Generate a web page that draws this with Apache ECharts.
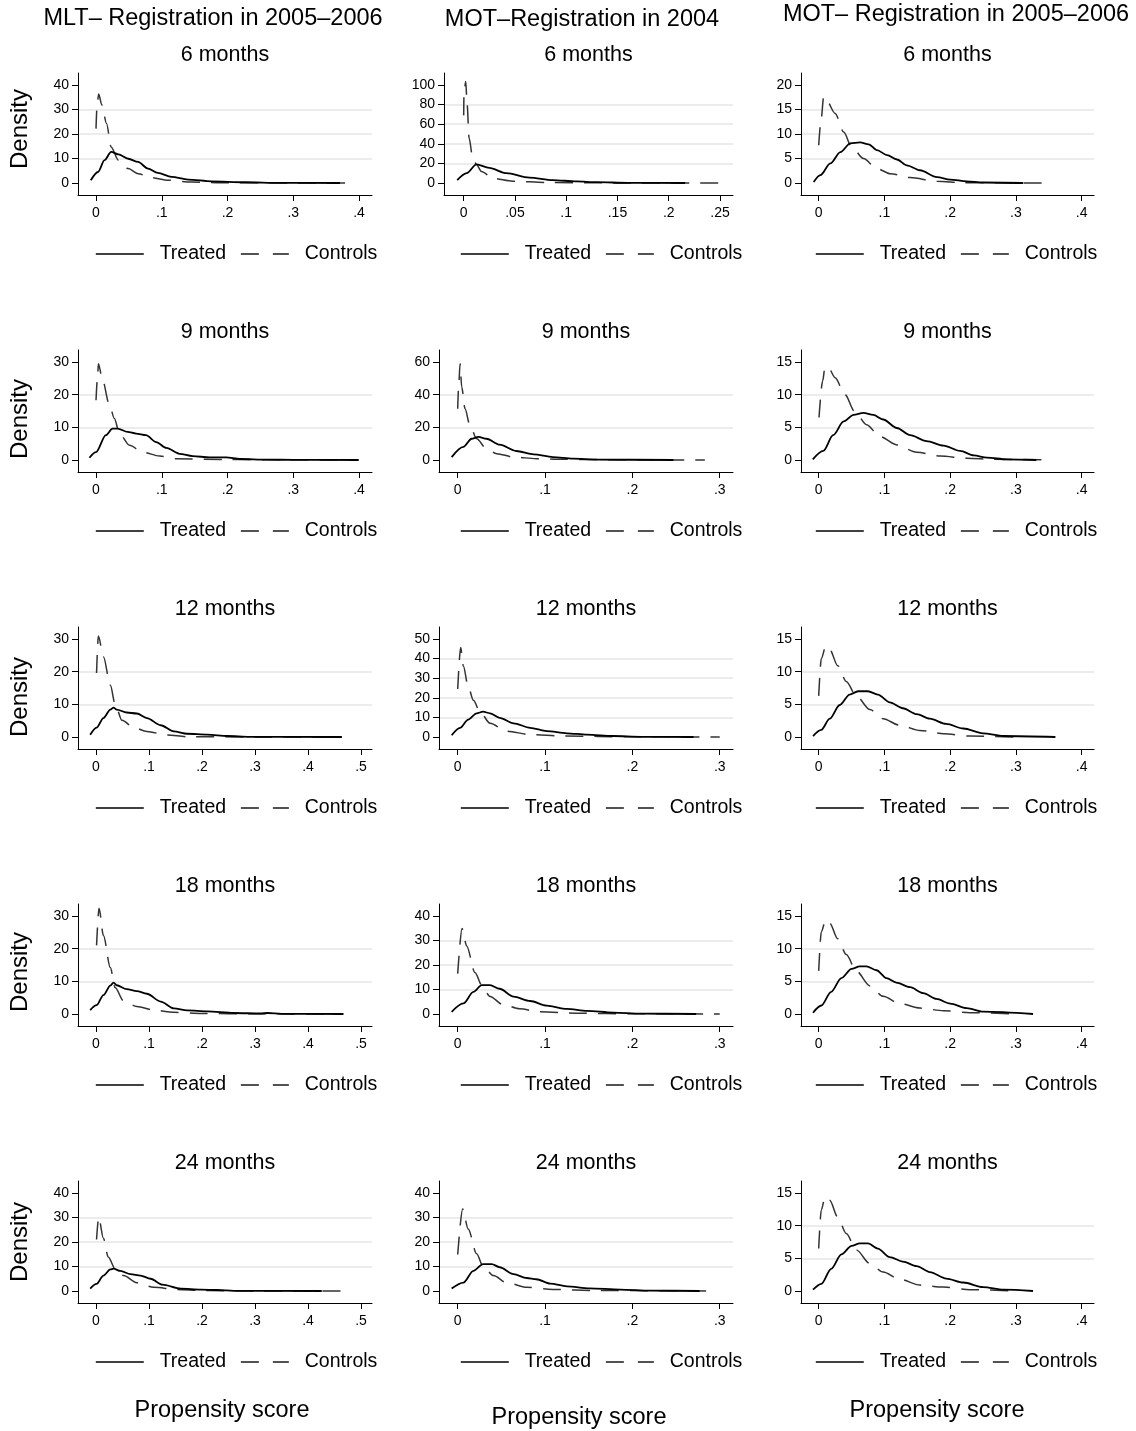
<!DOCTYPE html>
<html><head><meta charset="utf-8">
<script src="https://cdn.jsdelivr.net/npm/echarts@6/dist/echarts.min.js"></script>
<style>html,body{margin:0;padding:0;background:#fff}#c{width:1136px;height:1431px}</style>
</head><body><div id="c"></div>
<script>
// ---------------- DATA ----------------
const columnTitles = ['MLT\u2013 Registration in 2005\u20132006', 'MOT\u2013Registration in 2004', 'MOT\u2013 Registration in 2005\u20132006'];
const rowLabels = ['6 months', '9 months', '12 months', '18 months', '24 months'];
const seriesNames = ['Treated', 'Controls'];

// Column 1: MLT, registration 2005-2006
const mlt_6_treated = [[-0.008,1.1],[0.003,4.5],[0.013,9.3],[0.023,12.7],[0.034,11.7],[0.049,9.9],[0.064,8.6],[0.079,5.9],[0.094,4.1],[0.115,2.5],[0.14,1.4],[0.176,0.7],[0.226,0.3],[0.28,0.05],[0.371,0]];
const mlt_6_controls = [[0,22.2],[0.0015,31],[0.004,36.3],[0.009,31.8],[0.016,24.3],[0.023,14.7],[0.034,9.3],[0.049,5.9],[0.064,3.8],[0.084,2.2],[0.11,1.1],[0.145,0.4],[0.2,0.1],[0.3,0.03],[0.389,0]];
const mlt_9_treated = [[-0.01,0.7],[0,2.4],[0.015,7.6],[0.025,9.6],[0.033,9.6],[0.048,8.6],[0.061,8.1],[0.076,7.6],[0.0915,5.5],[0.107,3.7],[0.127,1.9],[0.147,1.2],[0.173,0.8],[0.198,0.8],[0.219,0.3],[0.26,0.1],[0.3,0.05],[0.399,0]];
const mlt_9_controls = [[0,18.3],[0.0025,25.9],[0.0036,29.5],[0.01,24.4],[0.02,17.2],[0.028,12.7],[0.0356,8.1],[0.051,4.5],[0.071,2.4],[0.097,1.2],[0.122,0.4],[0.2,0.15],[0.3,0.05],[0.4,0]];
const mlt_12_treated = [[-0.011,0.7],[0.001,2.9],[0.014,5.8],[0.027,8.4],[0.033,9.0],[0.039,8.4],[0.058,7.5],[0.077,7.2],[0.096,5.8],[0.122,3.6],[0.147,1.7],[0.172,1.0],[0.21,0.7],[0.248,0.3],[0.29,0.05],[0.464,0]];
const mlt_12_controls = [[0.001,19.6],[0.0044,30.9],[0.014,24.6],[0.027,15.9],[0.036,10.1],[0.049,5.1],[0.071,2.9],[0.096,1.7],[0.134,0.6],[0.172,0.1],[0.3,0.02],[0.46,0]];
const mlt_18_treated = [[-0.011,1.2],[0.001,2.7],[0.014,5.8],[0.027,8.7],[0.033,9.6],[0.039,8.8],[0.058,7.6],[0.077,7.0],[0.096,6.2],[0.122,3.8],[0.147,1.7],[0.172,1.1],[0.21,0.8],[0.26,0.3],[0.31,0.15],[0.324,0.3],[0.35,0.05],[0.467,0]];
const mlt_18_controls = [[0.001,21],[0.0057,32.4],[0.014,24],[0.027,14.2],[0.036,8.1],[0.052,4.0],[0.077,2.3],[0.109,1.2],[0.147,0.5],[0.2,0.15],[0.3,0.05],[0.46,0]];
const mlt_24_treated = [[-0.011,1],[0.001,2.9],[0.014,6.3],[0.027,8.8],[0.033,9.1],[0.046,8.2],[0.065,6.9],[0.084,6.3],[0.103,5.0],[0.125,2.6],[0.16,1.0],[0.198,0.6],[0.229,0.4],[0.26,0.05],[0.426,0]];
const mlt_24_controls = [[0.001,21],[0.005,30.1],[0.014,21.5],[0.023,13.9],[0.036,9.1],[0.052,6.3],[0.077,3.4],[0.109,1.5],[0.153,0.6],[0.2,0.2],[0.3,0.05],[0.464,0]];

// Column 2: MOT, registration 2004
const mot04_6_treated = [[-0.0063,2.9],[0.003,10],[0.0124,19],[0.025,15.4],[0.0417,10],[0.064,5.5],[0.087,3.0],[0.11,1.6],[0.13,0.8],[0.16,0.2],[0.216,0]];
const mot04_6_controls = [[0,69],[0.0003,92],[0.002,103.5],[0.0033,81],[0.0053,45.7],[0.0085,27.8],[0.0124,19],[0.0173,11.8],[0.0286,4.7],[0.048,1.8],[0.081,0.5],[0.15,0.1],[0.258,0]];
const mot04_9_treated = [[-0.0069,1.8],[0.0065,8],[0.016,13],[0.0236,14.1],[0.033,13],[0.048,9.4],[0.067,5.5],[0.087,3.5],[0.109,1.8],[0.132,0.8],[0.159,0.2],[0.247,0]];
const mot04_9_controls = [[0,31.4],[0.0011,44.7],[0.0027,59],[0.0046,44.7],[0.0084,31.4],[0.014,21.2],[0.0217,13],[0.033,6.9],[0.0446,3.9],[0.064,1.8],[0.09,0.8],[0.12,0.4],[0.2,0.1],[0.283,0]];
const mot04_12_treated = [[-0.0069,0.9],[0.0027,4.7],[0.012,8.9],[0.0217,12.1],[0.029,12.9],[0.037,12.1],[0.048,9.8],[0.064,7.0],[0.083,4.7],[0.102,3.0],[0.125,1.9],[0.148,1.2],[0.178,0.5],[0.21,0.1],[0.27,0]];
const mot04_12_controls = [[0,24.5],[0.0034,45.6],[0.0065,36.2],[0.012,25.7],[0.018,18.7],[0.0255,12.9],[0.037,7.0],[0.056,3.0],[0.083,1.2],[0.121,0.5],[0.2,0.1],[0.3,0]];
const mot04_18_treated = [[-0.0069,0.9],[0.0065,4.3],[0.018,9],[0.0275,11.8],[0.037,11.8],[0.048,10.3],[0.064,7.1],[0.083,5.3],[0.102,3.4],[0.125,2.1],[0.148,1.3],[0.178,0.6],[0.21,0.15],[0.273,0]];
const mot04_18_controls = [[0,16.5],[0.005,34.9],[0.0103,27.8],[0.0198,16.9],[0.0275,11.8],[0.037,7.1],[0.052,3.8],[0.071,2.1],[0.094,0.9],[0.14,0.3],[0.2,0.1],[0.3,0]];
const mot04_24_treated = [[-0.0069,1],[0.0065,3.4],[0.018,8.2],[0.029,11.0],[0.039,11.0],[0.048,9.7],[0.064,6.9],[0.079,5.3],[0.09,4.8],[0.106,3.0],[0.125,1.9],[0.151,1.1],[0.186,0.6],[0.22,0.15],[0.277,0]];
const mot04_24_controls = [[0,14.9],[0.0057,33.5],[0.012,25.3],[0.0217,15.2],[0.029,10.1],[0.041,6.3],[0.056,3.4],[0.079,1.5],[0.109,0.6],[0.16,0.2],[0.296,0]];

// Column 3: MOT, registration 2005-2006
const mot0506_6_treated = [[-0.0076,0.2],[0.0026,1.6],[0.0178,4],[0.033,6.3],[0.048,8.1],[0.063,8.3],[0.076,7.9],[0.0887,6.7],[0.104,5.7],[0.119,4.8],[0.134,3.6],[0.154,2.6],[0.18,1.2],[0.2,0.7],[0.225,0.35],[0.25,0.1],[0.311,0]];
const mot0506_6_controls = [[0,7.7],[0.0036,12.8],[0.0076,17.6],[0.0117,16.9],[0.025,14.2],[0.038,10.4],[0.05,7.4],[0.068,5],[0.089,2.9],[0.109,1.9],[0.139,1.1],[0.18,0.35],[0.22,0.05],[0.339,0]];
const mot0506_9_treated = [[-0.009,0.1],[0.007,1.4],[0.022,3.8],[0.038,5.9],[0.053,6.9],[0.068,7.2],[0.083,6.9],[0.098,6.2],[0.119,4.9],[0.139,3.8],[0.164,2.9],[0.19,2.2],[0.215,1.4],[0.236,0.7],[0.256,0.36],[0.286,0.1],[0.331,0]];
const mot0506_9_controls = [[0.0005,6.5],[0.006,12.1],[0.0096,14.2],[0.015,14.1],[0.025,12.6],[0.04,10],[0.055,7.4],[0.073,5.4],[0.093,3.6],[0.119,2.3],[0.149,1.2],[0.185,0.6],[0.225,0.26],[0.266,0.1],[0.352,0]];
const mot0506_12_treated = [[-0.0086,0.15],[0.004,1.1],[0.0168,2.8],[0.032,4.9],[0.047,6.5],[0.06,7.0],[0.075,7.0],[0.09,6.5],[0.108,5.3],[0.128,4.4],[0.149,3.5],[0.169,2.8],[0.194,2.0],[0.22,1.3],[0.25,0.56],[0.281,0.15],[0.36,0]];
const mot0506_12_controls = [[0,6.3],[0.004,12],[0.0107,13.9],[0.0168,13.4],[0.029,10.9],[0.042,8.5],[0.057,6.3],[0.078,4.2],[0.098,2.8],[0.123,1.8],[0.154,1.0],[0.19,0.5],[0.23,0.15],[0.3,0]];
const mot0506_18_treated = [[-0.0086,0.2],[0.004,1.3],[0.019,3.4],[0.0345,5.5],[0.05,6.9],[0.0624,7.3],[0.0726,7.3],[0.088,6.7],[0.103,5.5],[0.118,4.8],[0.139,4.1],[0.159,3.2],[0.179,2.3],[0.2,1.6],[0.225,0.9],[0.25,0.35],[0.326,0]];
const mot0506_18_controls = [[0,6.6],[0.004,12.6],[0.0107,14.4],[0.0168,13.9],[0.029,11.5],[0.042,9.1],[0.057,6.6],[0.078,4.3],[0.098,2.7],[0.123,1.6],[0.154,0.9],[0.19,0.5],[0.23,0.2],[0.3,0]];
const mot0506_24_treated = [[-0.0086,0.2],[0.004,1.1],[0.019,3.4],[0.0345,5.6],[0.05,6.9],[0.0624,7.3],[0.075,7.3],[0.09,6.5],[0.108,5.2],[0.128,4.5],[0.149,3.8],[0.169,2.9],[0.194,1.9],[0.22,1.3],[0.25,0.6],[0.281,0.2],[0.326,0]];
const mot0506_24_controls = [[0,6.5],[0.004,12.4],[0.0096,14.4],[0.0168,13.9],[0.029,11.3],[0.042,8.8],[0.057,6.3],[0.078,4.2],[0.098,2.9],[0.123,1.8],[0.154,0.9],[0.19,0.6],[0.23,0.2],[0.3,0]];

// Tick label sets
const yTicks_0_40_by10 = [0,10,20,30,40];
const yTicks_0_30_by10 = [0,10,20,30];
const yTicks_0_50_by10 = [0,10,20,30,40,50];
const yTicks_0_100_by20 = [0,20,40,60,80,100];
const yTicks_0_60_by20 = [0,20,40,60];
const yTicks_0_20_by5 = [0,5,10,15,20];
const yTicks_0_15_by5 = [0,5,10,15];
const xTicks_0_04 = [0,0.1,0.2,0.3,0.4];
const xTicks_0_05 = [0,0.1,0.2,0.3,0.4,0.5];
const xTicks_0_025 = [0,0.05,0.1,0.15,0.2,0.25];
const xTicks_0_03 = [0,0.1,0.2,0.3];

// ---------------- LAYOUT ----------------
const FONT = 'Liberation Sans';
const ROW_TOP = [73, 350, 627, 904, 1181];
const PLOT_H = 122;
const COLS = [
  {left:[78,78,78,78,78], right:372, legendLeft:95, center:[225,225,225,225,225]},
  {left:[444,439,439,439,439], right:733, legendLeft:460, center:[588.5,586,586,586,586]},
  {left:[801,801,801,801,801], right:1094, legendLeft:815, center:[947.5,947.5,947.5,947.5,947.5]}
];
const XR_MLT_A = [-0.0274, 0.4198], XR_MLT_B = [-0.034, 0.5208];
const XR_MOT04_A = [-0.0192, 0.2627], XR_MOT04_B = [-0.0214, 0.3152];
const XR_MOT0506 = [-0.0269, 0.4187];

const panels = [
  {c:0,r:0,t:mlt_6_treated,k:mlt_6_controls,yt:yTicks_0_40_by10,xt:xTicks_0_04,xr:XR_MLT_A},
  {c:0,r:1,t:mlt_9_treated,k:mlt_9_controls,yt:yTicks_0_30_by10,xt:xTicks_0_04,xr:XR_MLT_A},
  {c:0,r:2,t:mlt_12_treated,k:mlt_12_controls,yt:yTicks_0_30_by10,xt:xTicks_0_05,xr:XR_MLT_B},
  {c:0,r:3,t:mlt_18_treated,k:mlt_18_controls,yt:yTicks_0_30_by10,xt:xTicks_0_05,xr:XR_MLT_B},
  {c:0,r:4,t:mlt_24_treated,k:mlt_24_controls,yt:yTicks_0_40_by10,xt:xTicks_0_05,xr:XR_MLT_B},
  {c:1,r:0,t:mot04_6_treated,k:mot04_6_controls,yt:yTicks_0_100_by20,xt:xTicks_0_025,xr:XR_MOT04_A},
  {c:1,r:1,t:mot04_9_treated,k:mot04_9_controls,yt:yTicks_0_60_by20,xt:xTicks_0_03,xr:XR_MOT04_B},
  {c:1,r:2,t:mot04_12_treated,k:mot04_12_controls,yt:yTicks_0_50_by10,xt:xTicks_0_03,xr:XR_MOT04_B},
  {c:1,r:3,t:mot04_18_treated,k:mot04_18_controls,yt:yTicks_0_40_by10,xt:xTicks_0_03,xr:XR_MOT04_B},
  {c:1,r:4,t:mot04_24_treated,k:mot04_24_controls,yt:yTicks_0_40_by10,xt:xTicks_0_03,xr:XR_MOT04_B},
  {c:2,r:0,t:mot0506_6_treated,k:mot0506_6_controls,yt:yTicks_0_20_by5,xt:xTicks_0_04,xr:XR_MOT0506},
  {c:2,r:1,t:mot0506_9_treated,k:mot0506_9_controls,yt:yTicks_0_15_by5,xt:xTicks_0_04,xr:XR_MOT0506},
  {c:2,r:2,t:mot0506_12_treated,k:mot0506_12_controls,yt:yTicks_0_15_by5,xt:xTicks_0_04,xr:XR_MOT0506},
  {c:2,r:3,t:mot0506_18_treated,k:mot0506_18_controls,yt:yTicks_0_15_by5,xt:xTicks_0_04,xr:XR_MOT0506},
  {c:2,r:4,t:mot0506_24_treated,k:mot0506_24_controls,yt:yTicks_0_15_by5,xt:xTicks_0_04,xr:XR_MOT0506}
];

const fmtX = v => v === 0 ? '0' : String(+v.toFixed(4)).replace(/^(-?)0\./, '$1.');
const grids = [], xAxes = [], yAxes = [], series = [], legends = [], graphics = [];
const NOFILL = {color: 'rgba(0,0,0,0)', borderColor: 'rgba(0,0,0,0)', borderWidth: 0};

panels.forEach((p, i) => {
  const col = COLS[p.c];
  const L = col.left[p.r];
  const top = ROW_TOP[p.r];
  const T = p.yt[p.yt.length - 1];
  const pad = T * 12 / 98;
  grids.push({left: L, top: top, width: col.right - L, height: PLOT_H, containLabel: false, outerBoundsMode: 'none'});
  xAxes.push({
    type: 'value', gridIndex: i, min: p.xr[0], max: p.xr[1],
    axisLine: {show: true, onZero: false, lineStyle: {color: '#000', width: 1}},
    axisTick: {show: true, length: 6, customValues: p.xt, lineStyle: {color: '#000', width: 1}},
    axisLabel: {customValues: p.xt, formatter: fmtX, fontFamily: FONT, fontSize: 14, color: '#000', margin: 11},
    splitLine: {show: false}
  });
  yAxes.push({
    type: 'value', gridIndex: i, min: -pad, max: T + pad,
    axisLine: {show: true, onZero: false, lineStyle: {color: '#000', width: 1}},
    axisTick: {show: true, length: 6, customValues: p.yt, lineStyle: {color: '#000', width: 1}},
    axisLabel: {customValues: p.yt, formatter: v => String(Math.round(v)), fontFamily: FONT, fontSize: 14, color: '#000', margin: 9},
    splitLine: {show: true, showMinLine: false, showMaxLine: false, lineStyle: {color: '#e6e6e6', width: 1.5}}
  });
  series.push({
    type: 'line', name: seriesNames[0], xAxisIndex: i, yAxisIndex: i, data: p.t,
    symbol: 'none', smooth: 0.3, smoothMonotone: 'x', silent: true, z: 3,
    itemStyle: {color: '#000'},
    lineStyle: {color: '#000', width: 1.8, type: 'solid'}
  });
  series.push({
    type: 'line', name: seriesNames[1], xAxisIndex: i, yAxisIndex: i, data: p.k,
    symbol: 'none', smooth: 0.3, smoothMonotone: 'x', silent: true, z: 2,
    itemStyle: {color: '#333'},
    lineStyle: {color: '#333', width: 1.5, type: [18, 11]}
  });
  legends.push({
    left: col.legendLeft, top: top + 171, orient: 'horizontal', padding: 0,
    itemGap: 14, itemWidth: 48, itemHeight: 14, selectedMode: false,
    formatter: '  {name}',
    itemStyle: NOFILL,
    textStyle: {fontFamily: FONT, fontSize: 19.5, color: '#000'},
    data: [
      {name: seriesNames[0], itemStyle: NOFILL, lineStyle: {color: '#000', width: 1.6, type: 'solid'}},
      {name: seriesNames[1], itemStyle: NOFILL, lineStyle: {color: '#1a1a1a', width: 1.5, type: [18, 14]}}
    ]
  });
  graphics.push({type: 'text', x: col.center[p.r], y: top - 18, silent: true,
    style: {text: rowLabels[p.r], font: '21.5px "' + FONT + '"', fill: '#000', align: 'center', verticalAlign: 'middle', textAlign: 'center', textVerticalAlign: 'middle'}});
});

const headerPos = [[213, 19], [582, 20], [956, 15]];
columnTitles.forEach((t, c) => graphics.push({type: 'text', x: headerPos[c][0], y: headerPos[c][1], silent: true,
  style: {text: t, font: '23.5px "' + FONT + '"', fill: '#000', align: 'center', verticalAlign: 'middle', textAlign: 'center', textVerticalAlign: 'middle'}}));
const densityY = [129, 419, 697, 972, 1242];
densityY.forEach(y => graphics.push({type: 'text', x: 20, y: y, rotation: Math.PI / 2, silent: true,
  style: {text: 'Density', font: '24px "' + FONT + '"', fill: '#000', align: 'center', verticalAlign: 'middle', textAlign: 'center', textVerticalAlign: 'middle'}}));
const xTitlePos = [[222, 1411], [579, 1418], [937, 1411]];
xTitlePos.forEach(pt => graphics.push({type: 'text', x: pt[0], y: pt[1], silent: true,
  style: {text: 'Propensity score', font: '23.5px "' + FONT + '"', fill: '#000', align: 'center', verticalAlign: 'middle', textAlign: 'center', textVerticalAlign: 'middle'}}));

const chart = echarts.init(document.getElementById('c'), null, {renderer: 'canvas'});
chart.setOption({
  animation: false,
  backgroundColor: '#fff',
  grid: grids, xAxis: xAxes, yAxis: yAxes, series: series, legend: legends,
  graphic: {elements: graphics}
});
</script></body></html>
